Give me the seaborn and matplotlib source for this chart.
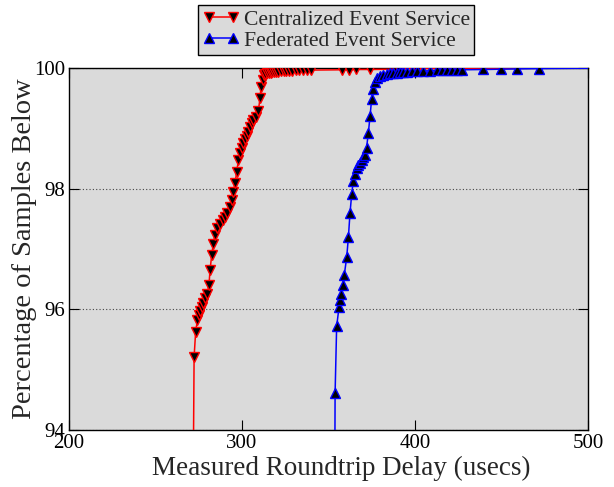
import matplotlib
matplotlib.use("Agg")
import matplotlib.pyplot as plt
import seaborn as sns
import pandas as pd

# ---- data ----
central_x = [271.0, 272.3, 273.2, 274.2, 275.0, 275.7, 276.7, 277.6, 278.8, 279.9,
             280.9, 281.5, 282.5, 283.4, 284.4, 285.7, 287.3, 288.8, 290.2, 291.5,
             293.1, 294.0, 295.0, 296.0, 296.9, 297.9, 298.8, 299.8, 300.8, 301.7,
             302.7, 303.6, 304.6, 305.6, 306.5, 308.1, 309.4, 310.4, 311.0, 312.0,
             312.7, 313.5, 314.5, 315.5, 316.5, 317.5, 318.5, 319.5, 321.0, 322.5,
             324.0, 325.5, 327.0, 329.0, 331.0, 333.0, 335.0, 337.5, 340.0, 358.0,
             362.0, 366.0, 374.0, 389.0, 391.0, 401.0, 520.0]
central_y = [90.0, 95.21, 95.63, 95.82, 95.90, 95.98, 96.04, 96.11, 96.18, 96.26,
             96.40, 96.65, 96.90, 97.09, 97.23, 97.34, 97.42, 97.48, 97.53, 97.60,
             97.70, 97.81, 97.95, 98.09, 98.28, 98.47, 98.59, 98.67, 98.75, 98.82,
             98.87, 98.94, 99.02, 99.08, 99.14, 99.19, 99.28, 99.50, 99.69, 99.80,
             99.88, 99.90, 99.91, 99.92, 99.925, 99.93, 99.935, 99.94, 99.94, 99.945,
             99.95, 99.95, 99.955, 99.955, 99.96, 99.96, 99.96, 99.965, 99.965, 99.97,
             99.97, 99.975, 99.975, 99.98, 99.985, 99.99, 100.0]

fed_x = [353.2, 353.8, 354.7, 356.1, 356.6, 357.4, 358.2, 359.1, 360.5, 361.5,
         362.4, 363.4, 364.3, 365.3, 366.3, 367.2, 368.2, 369.2, 370.1, 371.1,
         372.0, 373.0, 374.0, 374.9, 375.9, 376.9, 377.9, 379.8, 381.7, 383.6,
         385.5, 387.5, 389.4, 391.3, 393.3, 395.2, 398.1, 401.0, 404.8, 408.7,
         412.5, 415.4, 418.3, 421.2, 424.1, 427.0, 439.5, 449.5, 459.0, 471.7, 520.0]
fed_y = [90.0, 94.61, 95.72, 96.04, 96.15, 96.26, 96.40, 96.57, 96.86, 97.20,
         97.59, 97.91, 98.13, 98.24, 98.34, 98.39, 98.43, 98.47, 98.52, 98.56,
         98.68, 98.92, 99.20, 99.48, 99.66, 99.77, 99.83, 99.87, 99.89, 99.90,
         99.91, 99.92, 99.925, 99.93, 99.935, 99.94, 99.945, 99.95, 99.95, 99.955,
         99.96, 99.96, 99.965, 99.965, 99.97, 99.97, 99.975, 99.98, 99.985, 99.99, 100.0]

series_names = ["Centralized Event Service", "Federated Event Service"]
x_ticks = [200, 300, 400, 500]
y_ticks = [94, 96, 98, 100]

df_c = pd.DataFrame({"delay": central_x, "pct": central_y})
df_f = pd.DataFrame({"delay": fed_x, "pct": fed_y})

# ---- style ----
sns.set_style("white", rc={"axes.facecolor": "#dadada", "axes.edgecolor": "black"})
plt.rcParams["font.family"] = ["Liberation Serif", "DejaVu Serif"]
plt.rcParams["mathtext.fontset"] = "stix"

fig = plt.figure(figsize=(6.14, 4.87), dpi=100)
ax = fig.add_axes([0.1124, 0.117, 0.8453, 0.7434])

sns.lineplot(data=df_c, x="delay", y="pct", ax=ax, sort=False, estimator=None,
             color="red", lw=1.1, marker="v", markersize=6.5,
             markerfacecolor="black", markeredgecolor="red", markeredgewidth=1.0,
             label=series_names[0], zorder=3)
sns.lineplot(data=df_f, x="delay", y="pct", ax=ax, sort=False, estimator=None,
             color="blue", lw=1.1, marker="^", markersize=6.5,
             markerfacecolor="black", markeredgecolor="blue", markeredgewidth=1.0,
             label=series_names[1], zorder=4)

ax.set_xlim(200, 500)
ax.set_ylim(94, 100)
ax.set_xticks(x_ticks)
ax.set_yticks(y_ticks)
ax.set_xticklabels([str(t) for t in x_ticks])
ax.set_yticklabels([str(t) for t in y_ticks])
ax.tick_params(direction="in", length=7, width=0.8, labelsize=15, pad=3,
               top=True, right=True, bottom=True, left=True, colors="black")
ax.yaxis.grid(True, linestyle=(0, (1, 2)), color="#444444", linewidth=0.8)
ax.xaxis.grid(False)
for s in ax.spines.values():
    s.set_linewidth(1.0)
    s.set_color("black")

ax.set_xlabel("Measured Roundtrip Delay (usecs)", fontsize=19.5, labelpad=2)
ax.xaxis.label.set_x(0.525)
ax.set_ylabel("Percentage of Samples Below", fontsize=20.5)
ax.yaxis.set_label_coords(-0.062, 0.5)

ax.get_legend().remove()
handles, labels = ax.get_legend_handles_labels()
leg = fig.legend(handles, labels, loc="upper center", bbox_to_anchor=(0.548, 0.998),
                 fontsize=15.6, frameon=True, fancybox=False, edgecolor="black",
                 framealpha=1, numpoints=2, handlelength=1.7, handletextpad=0.2,
                 borderpad=0.2, labelspacing=0.05, borderaxespad=0.2)
leg.get_frame().set_linewidth(1.0)

fig.savefig("out.png", dpi=100)
